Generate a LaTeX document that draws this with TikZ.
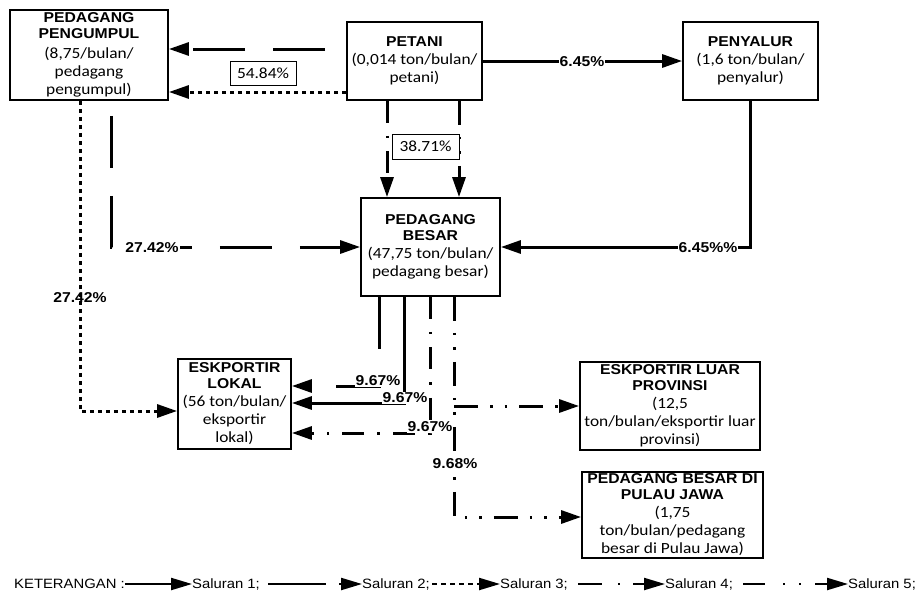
\documentclass[tikz,border=0pt]{standalone}
\usepackage{fontspec}
\setmainfont{Liberation Sans}[FakeStretch=1.1]
\newfontfamily\calfont{Carlito}[FakeStretch=1.12]
\usetikzlibrary{arrows.meta, positioning}
\newcommand\ttl[1]{{\normalfont\bfseries\fontsize{14.3}{16}\selectfont #1}}

\begin{document}
\begin{tikzpicture}[x=1pt, y=-1pt,
    box/.style={draw, line width=1.8pt, inner sep=0pt, align=center, font=\calfont\fontsize{15.5}{18}\selectfont},
    pct/.style={fill=white, inner sep=1pt, font=\bfseries\fontsize{14.3}{16}\selectfont},
    pctbox/.style={draw, line width=0.9pt, fill=white, inner sep=0pt, minimum width=66pt, minimum height=24pt, font=\calfont\fontsize{15.5}{18}\selectfont},
    leg/.style={inner sep=0pt, font=\fontsize{13.5}{15}\selectfont},
    sal1/.style={line width=3pt, -{Triangle[length=20pt, width=13pt]}},
    sal2/.style={sal1, dash pattern=on 52pt off 28pt},
    sal3/.style={sal1, dash pattern=on 4pt off 4pt},
    sal4/.style={sal1, dash pattern=on 22pt off 13pt on 2.5pt off 13pt},
    sal5/.style={sal1, dash pattern=on 24pt off 12pt on 2.5pt off 12pt on 2.5pt off 12pt},
    lg/.style={line width=2.2pt, -{Triangle[length=21pt, width=12pt]}}]
\useasboundingbox[fill=white] (0,0) rectangle (924,597);

% kotak-kotak
\node[box, minimum width=158pt, minimum height=90pt] (pengumpul) at (89,55)
    {\ttl{PEDAGANG}\\[-2pt]\ttl{PENGUMPUL}\\[2pt](8,75/bulan/\\pedagang\\pengumpul)};
\node[box, minimum width=135pt, minimum height=78pt] (petani) at (414.5,61)
    {\ttl{PETANI}\\(0,014 ton/bulan/\\petani)};
\node[box, minimum width=135pt, minimum height=78pt] (penyalur) at (750.5,61)
    {\ttl{PENYALUR}\\(1,6 ton/bulan/\\penyalur)};
\node[box, minimum width=139pt, minimum height=98pt] (besar) at (430.5,247)
    {\ttl{PEDAGANG}\\[-2pt]\ttl{BESAR}\\(47,75 ton/bulan/\\pedagang besar)};
\node[box, minimum width=113pt, minimum height=90pt] (lokal) at (234.5,404)
    {\ttl{ESKPORTIR}\\[-2pt]\ttl{LOKAL}\\(56 ton/bulan/\\eksportir\\lokal)};
\node[box, minimum width=180pt, minimum height=88pt] (luar) at (670,406)
    {\ttl{ESKPORTIR LUAR}\\[-2pt]\ttl{PROVINSI}\\(12,5\\ton/bulan/eksportir luar\\provinsi)};
\node[box, minimum width=181pt, minimum height=86pt] (jawa) at (672.5,515)
    {\ttl{PEDAGANG BESAR DI}\\[-2pt]\ttl{PULAU JAWA}\\(1,75\\ton/bulan/pedagang\\besar di Pulau Jawa)};

% saluran
\draw[sal2, dash phase=59pt] (petani.west |- 0,49) -- (pengumpul.east |- 0,49);
\draw[sal3] (petani.west |- 0,92) -- (pengumpul.east |- 0,92);
\draw[sal1] (petani.east) -- (penyalur.west);
\draw[sal1] (penyalur.south) |- (besar.east);
\draw[sal4] (petani.south -| 387,0) -- (besar.north -| 387,0);
\draw[sal5] (petani.south -| 459,0) -- (besar.north -| 459,0);
\draw[sal2, dash phase=65pt] (pengumpul.south -| 111,0) |- (besar.west);
\draw[sal3] (pengumpul.south -| 80,0) |- (lokal.west |- 0,411);
\draw[sal2] (besar.south -| 379,0) |- (lokal.east |- 0,386);
\draw[sal1] (besar.south -| 404,0) |- (lokal.east |- 0,403);
\draw[sal4] (besar.south -| 430,0) |- (lokal.east |- 0,433);
\draw[sal5] (besar.south -| 454,0) |- (jawa.west |- 0,517);
\coordinate (cabang) at (454,406);
\draw[sal5] (cabang) -- (luar.west);

% persentase
\node[pct] (p1) at (582,62) {6.45\%};
\node[pct] (p2) at (708,248) {6.45\%\%};
\node[pct] (p3) at (152,248) {27.42\%};
\node[pct, fill=none] (p4) at (80,298) {27.42\%};
\node[pct] (p5) at (378,381) {9.67\%};
\node[pct] (p6) at (405,398) {9.67\%};
\node[pct] (p7) at (430,427) {9.67\%};
\node[pct] (p8) at (455,464) {9.68\%};
\node[pctbox] (q1) at (263,73) {54.84\%};
\node[pctbox, minimum width=67pt, minimum height=25pt] (q2) at (425.5,146.5) {38.71\%};

% keterangan
\node[leg, anchor=west] (ket) at (14,584) {KETERANGAN :};
\node[leg, anchor=west] (s1) at (192,584) {Saluran 1;};
\node[leg, anchor=west] (s2) at (362,584) {Saluran 2;};
\node[leg, anchor=west] (s3) at (500,584) {Saluran 3;};
\node[leg, anchor=west] (s4) at (665,584) {Saluran 4;};
\node[leg, anchor=west] (s5) at (848,584) {Saluran 5;};
\draw[lg] (ket.east) -- (s1.west);
\draw[lg, dash pattern=on 58pt off 13pt] ([xshift=8pt]s1.east) -- (s2.west);
\draw[lg, dash pattern=on 5pt off 4pt] ([xshift=2pt]s2.east) -- (s3.west);
\draw[lg, dash pattern=on 24pt off 16pt on 2pt off 13pt] ([xshift=10pt]s3.east) -- (s4.west);
\draw[lg, dash pattern=on 22pt off 18pt on 2pt off 14pt on 2pt off 14pt] ([xshift=10pt]s4.east) -- (s5.west);
\end{tikzpicture}
\end{document}
